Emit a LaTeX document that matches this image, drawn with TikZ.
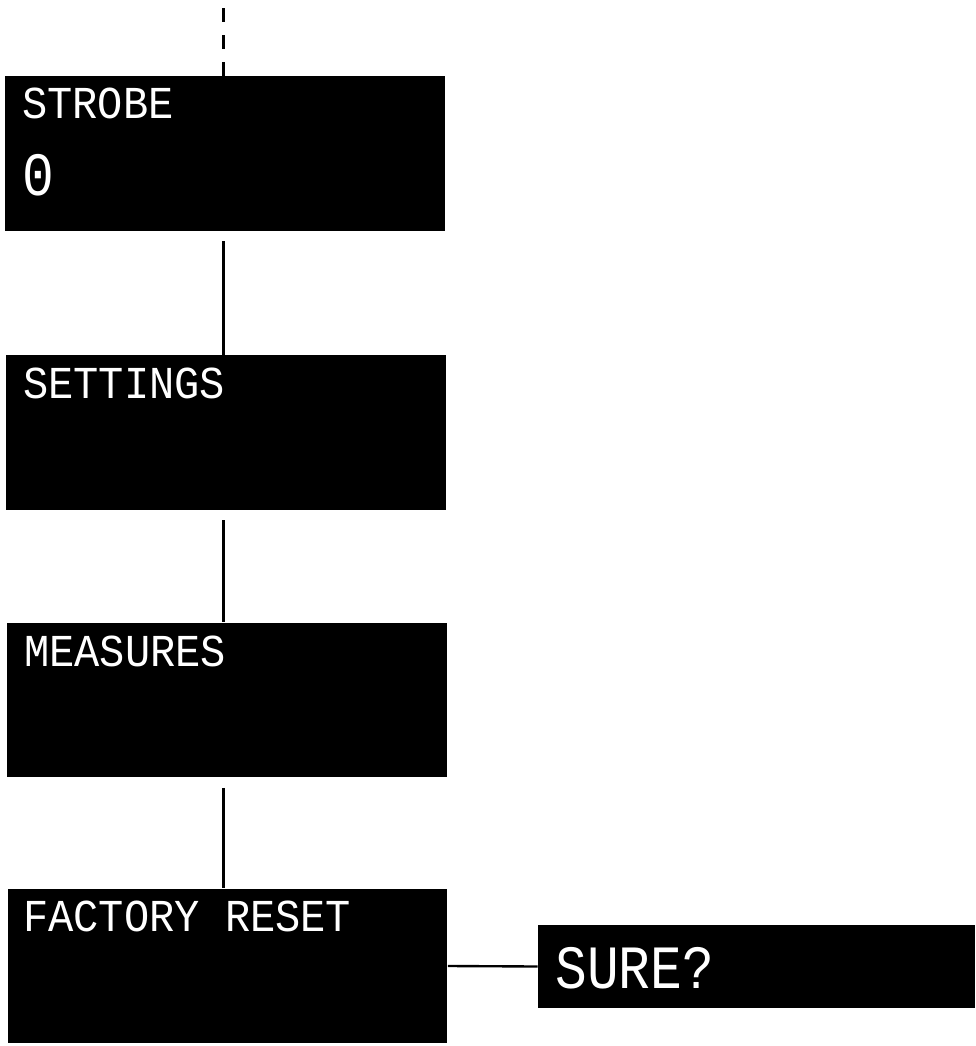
\documentclass[tikz,border=0pt]{standalone}
\usepackage{fontspec}
\newfontfamily\lcdfont[FakeStretch=0.92]{Liberation Mono}
\newfontfamily\lcdbigfont[FakeStretch=0.86]{Liberation Mono}
\begin{document}
\begin{tikzpicture}[
    x=0.02cm, y=-0.02cm,
    screen/.style={rectangle, fill=black, draw=none, inner sep=0pt,
                   minimum width=8.8cm, minimum height=3.1cm},
    smallscreen/.style={screen, minimum width=8.74cm, minimum height=1.66cm},
    lcd/.style={text=white, anchor=base west, inner sep=0pt,
                font=\lcdfont\fontsize{26}{26}\selectfont},
    lcdbig/.style={lcd, font=\lcdbigfont\fontsize{35}{35}\selectfont},
    link/.style={line width=1.35pt, draw=black}
]
  \useasboundingbox (0,0) rectangle (975,1046);

  % menu column
  \node[screen] (strobe)   at (225, 153.5) {};
  \node[screen] (settings) at (226, 432.5) {};
  \node[screen] (measures) at (227, 700)   {};
  \node[screen] (reset)    at (227.5, 966) {};

  % confirmation screen
  \node[smallscreen] (sure) at (756.5, 966.5) {};

  % screen texts
  \node[lcd]    (strobe-title)   at (22, 118)  {STROBE};
  \node[lcdbig] (strobe-value)   at (22, 195)  {0};
  \node[lcd]    (settings-title) at (23, 398)  {SETTINGS};
  \node[lcd]    (measures-title) at (24, 666)  {MEASURES};
  \node[lcd]    (reset-title)    at (23, 931)  {FACTORY RESET};
  \node[lcdbig] (sure-title)     at (555, 988) {SURE?};

  % connectors
  \coordinate (entry) at (223.5, 7);
  \draw[link, dash pattern=on 8pt off 7.4pt] (strobe.north -| entry) -- (entry);
  \draw[link] ([yshift=-0.2cm]strobe.south -| entry)   -- (settings.north -| entry);
  \draw[link] ([yshift=-0.2cm]settings.south -| entry) -- (measures.north -| entry);
  \draw[link] ([yshift=-0.2cm]measures.south -| entry) -- (reset.north -| entry);
  \draw[link] (reset.east) -- (sure.west);

\end{tikzpicture}
\end{document}
